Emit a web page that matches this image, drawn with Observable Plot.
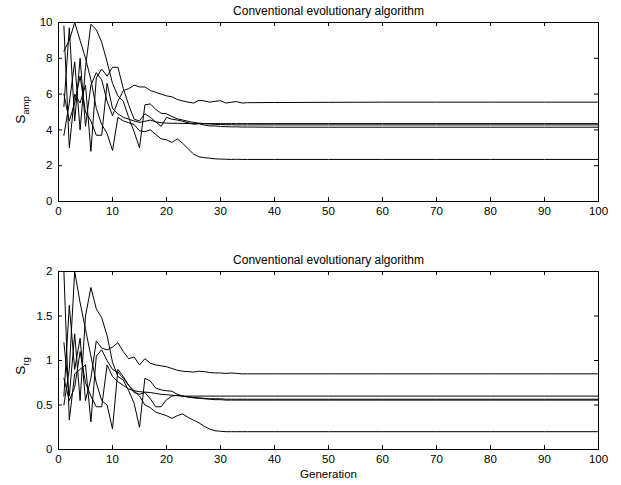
<!DOCTYPE html>
<html><head><meta charset="utf-8">
<script src="https://cdn.jsdelivr.net/npm/d3@7"></script>
<script src="https://cdn.jsdelivr.net/npm/@observablehq/plot@0.6"></script>
<style>body{margin:0;background:#fff} svg{display:block}</style>
</head><body><div id="chart"></div>
<script>
const generations = [1,2,3,4,5,6,7,8,9,10,11,12,13,14,15,16,17,18,19,20,21,22,23,24,25,26,27,28,29,30,31,32,33,34,35,40,50,60,70,80,90,100];

// Top panel: S_amp
const ampRun1 = [5.3,9.7,4.5,8.0,4.2,6.5,7.2,6.8,5.6,4.8,5.6,6.2,6.3,6.5,6.4,6.4,6.2,6.1,6.0,5.9,5.85,5.7,5.62,5.55,5.5,5.65,5.62,5.55,5.6,5.63,5.5,5.55,5.58,5.5,5.52,5.53,5.54,5.55,5.55,5.55,5.55,5.55];
const ampRun2 = [3.7,5.5,7.8,4.0,7.5,9.9,9.6,8.9,7.8,6.6,5.9,5.6,4.7,3.9,3.0,5.4,5.45,5.15,4.93,4.9,4.75,4.62,4.55,4.48,4.42,4.38,4.35,4.33,4.31,4.3,4.29,4.29,4.28,4.28,4.28,4.28,4.28,4.28,4.28,4.28,4.28,4.28];
const ampRun3 = [8.4,9.0,10.0,9.0,8.0,6.8,5.2,4.3,3.8,2.85,4.7,4.5,4.4,4.3,3.95,3.9,4.0,3.75,3.5,3.45,3.3,3.5,3.25,2.95,2.65,2.5,2.45,2.42,2.38,2.37,2.36,2.35,2.36,2.35,2.35,2.35,2.35,2.35,2.35,2.35,2.35,2.35];
const ampRun4 = [9.8,3.0,6.0,5.5,6.5,2.8,6.9,7.4,7.0,7.5,7.5,6.3,5.4,4.6,4.5,4.9,4.7,4.45,4.2,4.7,4.6,4.55,4.48,4.4,4.32,4.35,4.27,4.22,4.22,4.19,4.18,4.17,4.17,4.16,4.16,4.15,4.15,4.15,4.15,4.15,4.15,4.15];
const ampRun5 = [6.0,4.5,5.5,7.0,5.0,4.5,3.7,3.7,6.6,5.2,4.9,4.7,4.6,4.5,4.42,4.48,4.55,4.45,4.4,4.38,4.37,4.37,4.36,4.36,4.35,4.35,4.35,4.35,4.35,4.35,4.35,4.35,4.35,4.35,4.35,4.35,4.35,4.35,4.35,4.35,4.35,4.35];

// Bottom panel: S_rg
const rgRun1 = [0.6,1.62,0.9,1.25,0.55,0.8,1.22,1.14,1.12,1.15,1.2,1.1,1.02,1.04,0.95,1.02,0.97,0.95,0.94,0.93,0.91,0.89,0.88,0.875,0.87,0.88,0.875,0.865,0.86,0.86,0.855,0.86,0.855,0.85,0.85,0.85,0.85,0.85,0.85,0.85,0.85,0.85];
const rgRun2 = [1.2,0.6,1.3,0.55,1.5,1.82,1.58,1.48,1.28,0.98,0.82,0.78,0.66,0.52,0.25,0.8,0.77,0.69,0.67,0.66,0.655,0.62,0.6,0.59,0.585,0.58,0.575,0.57,0.57,0.57,0.565,0.565,0.565,0.565,0.565,0.565,0.565,0.565,0.565,0.565,0.565,0.565];
const rgRun3 = [0.5,0.9,2.0,1.65,1.35,1.05,0.75,0.55,0.5,0.23,0.9,0.82,0.72,0.66,0.6,0.5,0.47,0.42,0.4,0.38,0.35,0.38,0.4,0.36,0.33,0.3,0.26,0.23,0.21,0.205,0.2,0.2,0.2,0.2,0.2,0.2,0.2,0.2,0.2,0.2,0.2,0.2];
const rgRun4 = [2.0,0.33,0.85,0.9,0.95,0.31,1.05,1.12,1.0,0.9,0.87,0.8,0.72,0.64,0.62,0.64,0.57,0.48,0.48,0.56,0.6,0.61,0.6,0.59,0.58,0.575,0.57,0.565,0.56,0.56,0.555,0.555,0.555,0.555,0.555,0.555,0.555,0.555,0.555,0.555,0.555,0.555];
const rgRun5 = [0.8,0.55,0.7,1.1,0.75,0.6,0.48,0.48,0.95,0.82,0.76,0.72,0.68,0.66,0.65,0.645,0.64,0.63,0.62,0.615,0.61,0.605,0.6,0.6,0.6,0.6,0.6,0.6,0.6,0.6,0.6,0.6,0.6,0.6,0.6,0.6,0.6,0.6,0.6,0.6,0.6,0.6];

const xTicks = [0,10,20,30,40,50,60,70,80,90,100];
const ampTicks = [0,2,4,6,8,10];
const rgTicks = [0,0.5,1,1.5,2];
const titleText = "Conventional evolutionary algorithm";
const xLabelText = "Generation";

function toRows(runs) {
  const rows = [];
  runs.forEach((vals, i) => vals.forEach((v, j) => rows.push({run: i, gen: generations[j], value: v})));
  return rows;
}

const W = 621, ML = 58, MR = 23;
const plotW = W - ML - MR;

function panel({runs, yMax, yTicks, height, marginTop, marginBottom, xlabel, sym, sub, labelY}) {
  const plotH = height - marginTop - marginBottom;
  const marks = [
    Plot.line(toRows(runs), {x: "gen", y: "value", z: "run", stroke: "black", strokeWidth: 1, clip: true}),
    Plot.frame({stroke: "black"}),
    Plot.ruleX(xTicks, {x: d => d, insetTop: plotH - 4, stroke: "black"}),
    Plot.ruleX(xTicks, {x: d => d, insetBottom: plotH - 4, stroke: "black"}),
    Plot.ruleY(yTicks, {y: d => d, insetRight: plotW - 4, stroke: "black"}),
    Plot.ruleY(yTicks, {y: d => d, insetLeft: plotW - 4, stroke: "black"}),
    Plot.axisX(xTicks, {tickSize: 0, tickPadding: 5, tickFormat: d => String(d), label: null, fontSize: 11.5}),
    Plot.axisY(yTicks, {tickSize: 0, tickPadding: 6, tickFormat: d => String(d), label: null, fontSize: 11.5}),
    Plot.text([titleText], {text: d => d, frameAnchor: "top", dy: -8, lineAnchor: "bottom", fontSize: 12})
  ];
  if (xlabel) marks.push(Plot.text([xlabel], {text: d => d, frameAnchor: "bottom", dy: 28, lineAnchor: "bottom", fontSize: 11.5}));
  const node = Plot.plot({
    width: W, height, marginLeft: ML, marginRight: MR, marginTop, marginBottom,
    x: {domain: [0, 100]},
    y: {domain: [0, yMax]},
    style: {fontFamily: "'Liberation Sans', Arial, Helvetica, sans-serif", fontSize: "11.5px", background: "white", color: "black"},
    marks
  });
  const t = d3.select(node).append("text")
    .attr("transform", `translate(25,${labelY}) rotate(-90)`)
    .attr("font-size", 13.5).attr("fill", "black")
    .attr("font-family", "'Liberation Sans', Arial, sans-serif");
  t.append("tspan").text(sym);
  t.append("tspan").attr("font-size", 9.5).attr("dy", 4).text(sub);
  return node;
}

const chart = document.getElementById("chart");
chart.appendChild(panel({runs: [ampRun1, ampRun2, ampRun3, ampRun4, ampRun5], yMax: 10, yTicks: ampTicks,
  height: 243, marginTop: 22, marginBottom: 42, xlabel: null, sym: "S", sub: "amp", labelY: 110}));
chart.appendChild(panel({runs: [rgRun1, rgRun2, rgRun3, rgRun4, rgRun5], yMax: 2, yTicks: rgTicks,
  height: 242, marginTop: 28, marginBottom: 36, xlabel: xLabelText, sym: "S", sub: "rg", labelY: 123}));
</script>
</body></html>
